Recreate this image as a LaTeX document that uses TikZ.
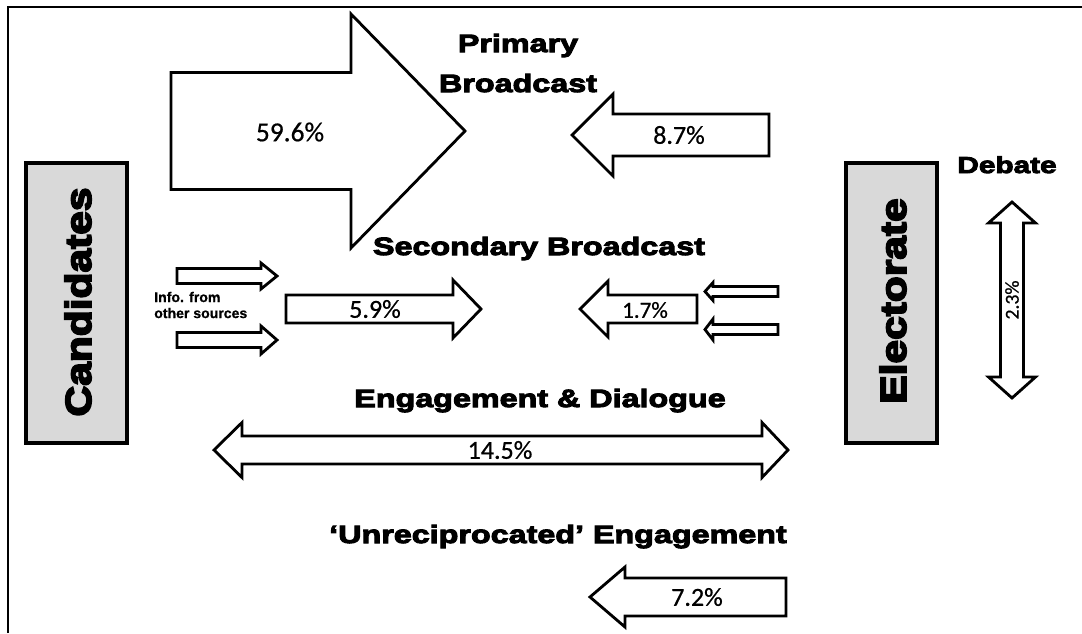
\documentclass[tikz,border=0pt]{standalone}
\usepackage{fontspec}
\newfontfamily\heavy[BoldFeatures={FakeBold=4,FakeStretch=1.29}]{Liberation Sans}
\newfontfamily\heavyv[BoldFeatures={FakeBold=5,FakeStretch=1.18}]{Liberation Sans}
\newfontfamily\lab[FakeBold=0.6]{Carlito}
\newfontfamily\infofont[BoldFeatures={FakeBold=0.8}]{Liberation Sans}
\definecolor{boxgray}{HTML}{D9D9D9}
\newcommand\arrowpoly[6]{%
  \draw[arrowbody] ({#1},{#4-#5}) -- ({#2},{#4-#5}) -- ({#2},{#4-#6}) -- ({#3},{#4})
    -- ({#2},{#4+#6}) -- ({#2},{#4+#5}) -- ({#1},{#4+#5}) -- cycle;}
\begin{document}
\begin{tikzpicture}[x=0.025cm, y=-0.025cm,
  arrowbody/.style={draw=black, fill=white, line width=2pt, line join=miter},
  actor/.style={draw=black, fill=boxgray, line width=3.5pt, minimum width=101*0.025cm, minimum height=280*0.025cm, inner sep=0pt},
  heading/.style={font=\heavy\bfseries\fontsize{17.8}{20}\selectfont, inner sep=0pt, anchor=base},
  actortext/.style={font=\heavyv\bfseries\fontsize{25.6}{28}\selectfont, rotate=90, inner sep=0pt},
  pct/.style={font=\lab\fontsize{18.5}{20}\selectfont, inner sep=0pt}]
\fill[white] (0,0) rectangle (1082,633);
\useasboundingbox (0,0) rectangle (1082,633);
% frame
\draw[line width=1.4pt] (8,633) -- (8,7) -- (1082,7);
% actors
\node[actor] (cand) at (76.5,303) {};
\node[actortext] (candt) at (78,302) {Candidates};
\node[actor, minimum width=91*0.025cm] (elec) at (891.5,303) {};
\node[actortext] (elect) at (893,301) {Electorate};
% primary broadcast
\arrowpoly{171}{351}{465}{131}{58.5}{117}
\node[pct, font=\lab\fontsize{19.5}{21}\selectfont] (p596) at (290,132) {59.6\%};
\node[heading] (prim) at (518,52) {Primary};
\node[heading] (primb) at (518,92) {Broadcast};
\arrowpoly{769}{613}{572}{135}{21}{41}
\node[pct] (p87) at (679,135) {8.7\%};
% secondary broadcast
\node[heading] (sec) at (539,255) {Secondary Broadcast};
\arrowpoly{177}{261}{277}{276}{7.5}{13}
\arrowpoly{177}{261}{277}{340}{7.5}{14}
\node[font=\infofont\bfseries\fontsize{10}{11.4}\selectfont, align=left, anchor=west, inner sep=0pt] (info) at (154,305) {Info. from\\other sources};
\arrowpoly{286}{453}{481}{309}{14}{29}
\node[pct] (p59) at (375,309) {5.9\%};
\arrowpoly{697}{608}{580}{309}{14}{28}
\node[pct, font=\lab\fontsize{16.4}{18}\selectfont] (p17) at (645,310) {1.7\%};
\arrowpoly{778}{713}{705}{291.5}{5}{9}
\arrowpoly{778}{713}{705}{329.5}{5}{10.5}
% engagement & dialogue
\node[heading] (eng) at (540,407) {Engagement \& Dialogue};
\draw[arrowbody] (214,450) -- (242,422.5) -- (242,436) -- (762,436) -- (762,422.5) -- (788,450)
  -- (762,477.5) -- (762,464) -- (242,464) -- (242,477.5) -- cycle;
\node[pct] (p145) at (500,450) {14.5\%};
% unreciprocated
\node[heading] (unr) at (558,543) {‘Unreciprocated’ Engagement};
\arrowpoly{786}{625}{590}{597}{19}{30}
\node[pct] (p72) at (697,597) {7.2\%};
% debate
\node[heading, font=\heavy\bfseries\fontsize{16.4}{18}\selectfont] (deb) at (1007,173) {Debate};
\draw[arrowbody] (1012,202) -- (1035.5,223) -- (1023.5,223) -- (1023.5,377) -- (1035.5,377)
  -- (1012,398) -- (988.5,377) -- (1000.5,377) -- (1000.5,223) -- (988.5,223) -- cycle;
\node[pct, font=\lab\fontsize{14}{16}\selectfont, rotate=90] (p23) at (1012,300) {2.3\%};
\end{tikzpicture}
\end{document}
